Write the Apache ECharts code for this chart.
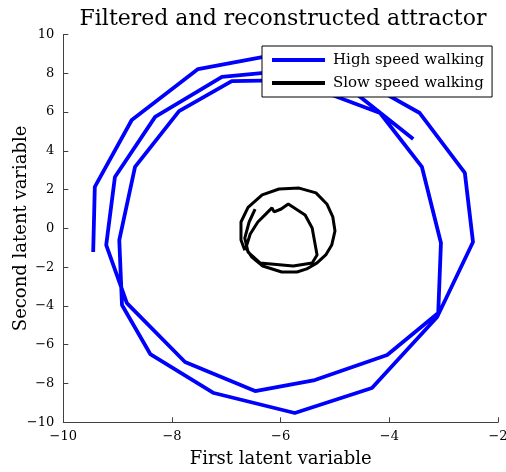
<!DOCTYPE html>
<html>
<head>
<meta charset="utf-8">
<script src="https://cdn.jsdelivr.net/npm/echarts@6/dist/echarts.min.js"></script>
<style>
html,body{margin:0;padding:0;background:#fff;}
#chart{width:506px;height:472px;}
</style>
</head>
<body>
<div id="chart"></div>
<script>
// ---- data ----
const titleText = 'Filtered and reconstructed attractor';
const xName = 'First latent variable';
const yName = 'Second latent variable';
const seriesNames = ['High speed walking', 'Slow speed walking'];
const xTicks = [-10, -8, -6, -4, -2];
const yTicks = [-10, -8, -6, -4, -2, 0, 2, 4, 6, 8, 10];

const highX = [-9.45, -9.42, -8.74, -7.52, -5.92, -4.91, -3.44, -2.61, -2.46, -3.12, -4.32, -5.74,
  -7.23, -8.40, -8.92, -8.97, -8.68, -7.87, -6.90, -5.79, -4.17, -3.40, -3.05, -3.10, -4.04,
  -5.37, -6.47, -7.76, -8.83, -9.21, -9.05, -8.31, -7.08, -5.92, -5.09, -3.56];
const highY = [-1.22, 2.14, 5.59, 8.22, 9.05, 8.27, 5.95, 2.86, -0.70, -4.57, -8.23, -9.52,
  -8.49, -6.48, -3.95, -0.60, 3.17, 6.05, 7.60, 7.65, 5.95, 3.17, -0.75, -4.36, -6.53,
  -7.82, -8.39, -6.89, -3.85, -0.86, 2.65, 5.75, 7.81, 8.12, 8.01, 4.61];

const slowX = [-6.47, -6.58, -6.66, -6.60, -6.38, -5.77, -5.42, -5.33, -5.37, -5.42, -5.55, -5.86,
  -5.99, -6.12, -6.16, -6.27, -6.42, -6.56, -6.64, -6.53, -6.33, -5.98, -5.70, -5.52, -5.33,
  -5.17, -5.06, -5.00, -5.04, -5.15, -5.35, -5.66, -6.03, -6.34, -6.60, -6.73, -6.73, -6.66];
const slowY = [1.00, 0.33, -0.50, -1.22, -1.78, -1.94, -1.78, -1.37, -0.75, 0.02, 0.69, 1.26,
  1.00, 0.85, 1.06, 0.75, 0.33, -0.29, -1.01, -1.48, -1.94, -2.25, -2.25, -2.09, -1.78,
  -1.37, -0.86, -0.13, 0.59, 1.26, 1.83, 2.08, 2.03, 1.73, 1.08, 0.33, -0.60, -1.13];

const pairs = (xs, ys) => xs.map((x, i) => [x, ys[i]]);
const fmt = v => (v < 0 ? '\u2212' + Math.abs(v) : String(v));
const serif = 'DejaVu Serif';

const chart = echarts.init(document.getElementById('chart'), null, {renderer: 'canvas'});
chart.setOption({
  animation: false,
  backgroundColor: '#ffffff',
  title: {
    text: titleText,
    left: 278,
    textAlign: 'center',
    top: 3,
    textStyle: {fontFamily: serif, fontSize: 22, fontWeight: 'normal', color: '#000'}
  },
  legend: {
    data: seriesNames,
    orient: 'vertical',
    left: 262,
    top: 46,
    padding: [6, 8, 6, 10],
    itemWidth: 53,
    itemHeight: 4,
    itemGap: 7,
    icon: 'rect',
    borderColor: '#000',
    borderWidth: 1,
    backgroundColor: '#fff',
    textStyle: {fontFamily: serif, fontSize: 15, color: '#000', lineHeight: 16, padding: [0, 0, 0, 3]},
    z: 10
  },
  grid: {left: 63.3, right: 8, top: 34.5, bottom: 49.7, containLabel: false, outerBoundsMode: 'none'},
  xAxis: {
    type: 'value',
    min: xTicks[0],
    max: xTicks[xTicks.length - 1],
    interval: 2,
    name: xName,
    nameLocation: 'middle',
    nameGap: 28,
    nameMoveOverlap: false,
    nameTextStyle: {fontFamily: serif, fontSize: 18, color: '#000'},
    axisLine: {show: true, onZero: false, lineStyle: {color: '#404040', width: 1}},
    axisTick: {show: true, inside: true, length: 5, lineStyle: {color: '#404040'}},
    axisLabel: {formatter: fmt, fontFamily: serif, fontSize: 13, color: '#000', margin: 8},
    splitLine: {show: false}
  },
  yAxis: {
    type: 'value',
    min: yTicks[0],
    max: yTicks[yTicks.length - 1],
    interval: 2,
    name: yName,
    nameLocation: 'middle',
    nameRotate: 90,
    nameGap: 33,
    nameMoveOverlap: false,
    nameTextStyle: {fontFamily: serif, fontSize: 18, color: '#000'},
    axisLine: {show: true, onZero: false, lineStyle: {color: '#404040', width: 1}},
    axisTick: {show: true, inside: true, length: 5, lineStyle: {color: '#404040'}},
    axisLabel: {formatter: fmt, fontFamily: serif, fontSize: 13, color: '#000', margin: 9},
    splitLine: {show: false}
  },
  series: [
    {
      name: seriesNames[0],
      type: 'line',
      data: pairs(highX, highY),
      showSymbol: false,
      symbol: 'none',
      lineStyle: {color: '#0000ff', width: 3.8},
      itemStyle: {color: '#0000ff'},
      z: 2
    },
    {
      name: seriesNames[1],
      type: 'line',
      data: pairs(slowX, slowY),
      showSymbol: false,
      symbol: 'none',
      lineStyle: {color: '#000000', width: 3},
      itemStyle: {color: '#000000'},
      z: 3
    }
  ]
});
</script>
</body>
</html>
